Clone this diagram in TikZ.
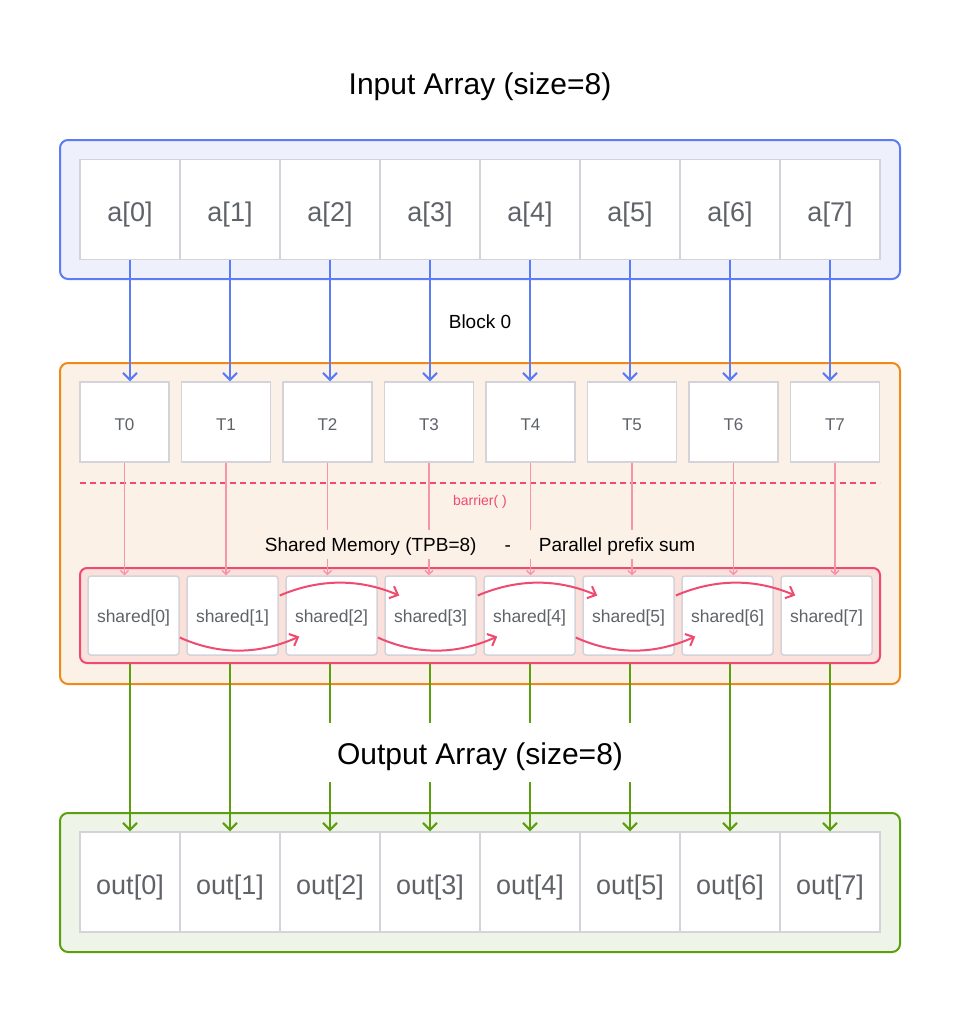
\documentclass[tikz,border=0pt]{standalone}
\usepackage{fontspec}
\setmainfont{Liberation Sans}
\usetikzlibrary{arrows.meta,calc}

\definecolor{inblue}{HTML}{5B7CF6}
\definecolor{inbluebg}{HTML}{EEF0FC}
\definecolor{blkorange}{HTML}{EF8A17}
\definecolor{blkorangebg}{HTML}{FCF1E6}
\definecolor{shpink}{HTML}{EF4A6F}
\definecolor{shpinkbg}{HTML}{FBE1DC}
\definecolor{thpink}{HTML}{F695A8}
\definecolor{outgreen}{HTML}{5B9E10}
\definecolor{outgreenbg}{HTML}{EEF4E7}
\definecolor{cellgray}{HTML}{D3D3D9}
\definecolor{txtgray}{HTML}{5F6368}

\begin{document}
\begin{tikzpicture}[x=1pt,y=-1pt,
    % Frames round the three regions
    frame/.style={draw=#1, line width=2pt, rounded corners=8pt},
    % Array cells, thread boxes and shared memory slots
    cell/.style={draw=cellgray, fill=white, line width=1.5pt,
        minimum width=100pt, minimum height=100pt, text=txtgray,
        text height=24pt, text depth=0pt,
        font=\fontsize{27}{32}\selectfont},
    thread/.style={draw=cellgray, fill=white, line width=1.5pt,
        minimum width=89pt, minimum height=80pt, text=txtgray,
        text height=16pt, text depth=0pt,
        font=\fontsize{17}{20}\selectfont},
    shcell/.style={draw=cellgray, fill=white, line width=1.5pt, rounded corners=3pt,
        minimum width=91pt, minimum height=79pt, text=txtgray,
        text height=14pt, text depth=0pt,
        font=\fontsize{17.5}{21}\selectfont},
    title/.style={font=\fontsize{30}{36}\selectfont, text height=24pt, text depth=0pt},
    midtext/.style={font=\fontsize{19}{23}\selectfont, text height=14pt, text depth=0pt},
    % Connectors
    load/.style={inblue, line width=2pt, -{Straight Barb[length=7pt,width=14pt]}},
    sync/.style={thpink, line width=1.3pt, -{Straight Barb[length=4pt,width=8pt]}},
    scan/.style={shpink, line width=2pt, -{Straight Barb[length=7pt,width=13pt]}},
    store/.style={outgreen, line width=2pt, -{Straight Barb[length=7pt,width=14pt]}}
]
    \useasboundingbox (0,0) rectangle (960,1013);

    % Titles
    \node[title] (intitle) at (480,82) {Input Array (size=8)};

    % Input array
    \draw[frame=inblue, fill=inbluebg] (60,140) rectangle (900,279);
    \foreach \i in {0,...,7}
        \node[cell] (a\i) at (130+100*\i,209.5) {a[\i]};

    % Block 0 with its threads
    \draw[frame=blkorange, fill=blkorangebg] (60,363) rectangle (900,684);
    \node[midtext] (blk) at (480,321) {Block 0};
    \foreach \i in {0,...,7}
        \node[thread] (t\i) at (124.5+101.5*\i,422) {T\i};

    % Barrier
    \draw[shpink, line width=1.5pt, dash pattern=on 6pt off 4pt] (80,483) -- (880,483);
    \node[text=shpink, font=\fontsize{14}{17}\selectfont, text height=11pt, text depth=0pt]
        (bar) at (480,500) {barrier( )};

    % Shared memory
    \node[draw=shpink, fill=shpinkbg, line width=2pt, rounded corners=7pt,
        minimum width=800pt, minimum height=95pt] (smem) at (480,615.5) {};
    \foreach \i in {0,...,7}
        \node[shcell] (sh\i) at (133.5+99*\i,615.5) {shared[\i]};

    % Output array
    \draw[frame=outgreen, fill=outgreenbg] (60,813) rectangle (900,952);
    \foreach \i in {0,...,7}
        \node[cell] (o\i) at (130+100*\i,882) {out[\i]};

    % Loads, thread writes and stores
    \foreach \i in {0,...,7} {
        \draw[load] (a\i.south) -- (a\i.south |- t\i.north);
        \draw[sync] (t\i.south) -- (t\i.south |- sh\i.north);
        \draw[store] (o\i.north |- smem.south) -- (o\i.north);
    }

    % Prefix sum steps
    \foreach \s/\e in {0/2,2/4,4/6}
        \draw[scan] ($(sh\s.east)+(0,22)$) .. controls +(40,18) and +(-40,18) .. ($(sh\e.west)+(14,21)$);
    \foreach \s/\e in {1/3,3/5,5/7}
        \draw[scan] ($(sh\s.east)+(1,-20)$) .. controls +(40,-17) and +(-40,-17) .. ($(sh\e.west)+(15,-20)$);

    % Labels lying over the connectors
    \node[midtext, fill=blkorangebg, minimum height=29pt, inner xsep=2pt] (shlabel) at (480,544.5)
        {Shared Memory (TPB=8)\hspace{28pt}-\hspace{28pt}Parallel prefix sum};
    \node[title, fill=white, minimum height=59pt, inner xsep=12pt] (outtitle) at (480,752.5)
        {Output Array (size=8)};
\end{tikzpicture}
\end{document}
